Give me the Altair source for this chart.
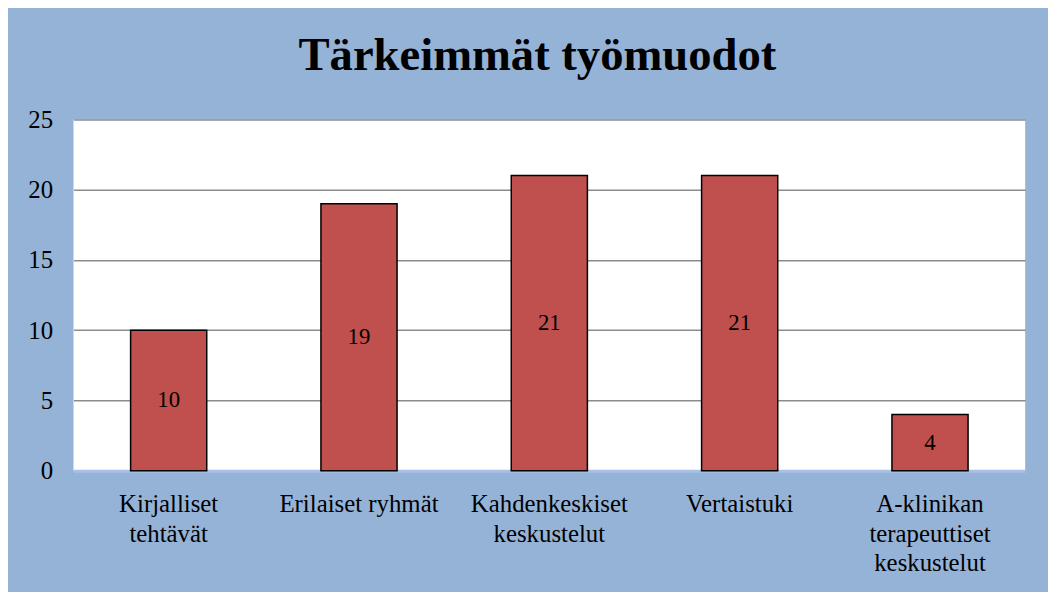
import altair as alt
import pandas as pd

categories = [
    "Kirjalliset\ntehtävät",
    "Erilaiset ryhmät",
    "Kahdenkeskiset\nkeskustelut",
    "Vertaistuki",
    "A-klinikan\nterapeuttiset\nkeskustelut",
]
values = [10, 19, 21, 21, 4]
y_ticks = [0, 5, 10, 15, 20, 25]
title_text = "Tärkeimmät työmuodot"

df = pd.DataFrame({"cat": categories, "val": values})

FONT = "Liberation Serif"

x_enc = alt.X(
    "cat:N",
    sort=None,
    title=None,
    scale=alt.Scale(paddingInner=0.6, paddingOuter=0.3),
    axis=alt.Axis(
        labelAngle=0,
        labelExpr="split(datum.label, '\\n')",
        labelFont=FONT,
        labelFontSize=25,
        labelLineHeight=30,
        labelColor="black",
        labelPadding=21,
        ticks=False,
        domain=True,
        domainColor="#A9BFE6",
        domainWidth=3,
        grid=False,
        labelLimit=300,
    ),
)

y_scale = alt.Scale(domain=[0, 25], nice=False)

bars = alt.Chart(df).mark_bar(
    color="#C0504D", stroke="black", strokeWidth=1.5
).encode(
    x=x_enc,
    y=alt.Y(
        "val:Q",
        scale=y_scale,
        title=None,
        axis=alt.Axis(
            values=y_ticks,
            labelFont=FONT,
            labelFontSize=25,
            labelColor="black",
            labelPadding=21,
            ticks=False,
            domain=False,
            grid=True,
            gridColor="#8C8C8C",
            gridWidth=1.5,
        ),
    ),
)

labels = alt.Chart(df).mark_text(
    font=FONT, fontSize=23, color="black", baseline="middle"
).transform_calculate(
    mid="datum.val / 2"
).encode(
    x=alt.X("cat:N", sort=None),
    y=alt.Y("mid:Q", scale=y_scale),
    text=alt.Text("val:Q"),
)

chart = (
    alt.layer(bars, labels)
    .properties(
        width=959,
        height=354,
        title=alt.TitleParams(
            title_text,
            font=FONT,
            fontSize=47,
            fontWeight="bold",
            color="black",
            anchor="middle",
            offset=28,
            dx=-12,
        ),
        autosize=alt.AutoSizeParams(type="none"),
        padding={"left": 66, "top": 110, "right": 23, "bottom": 120},
    )
    .configure(background="#95B3D7", font=FONT)
    .configure_axis(labelFont=FONT)
    .configure_text(font=FONT)
    .configure_view(fill="white", stroke=None)
)

chart.save("out.html", embed_options={"renderer": "svg", "actions": False})
